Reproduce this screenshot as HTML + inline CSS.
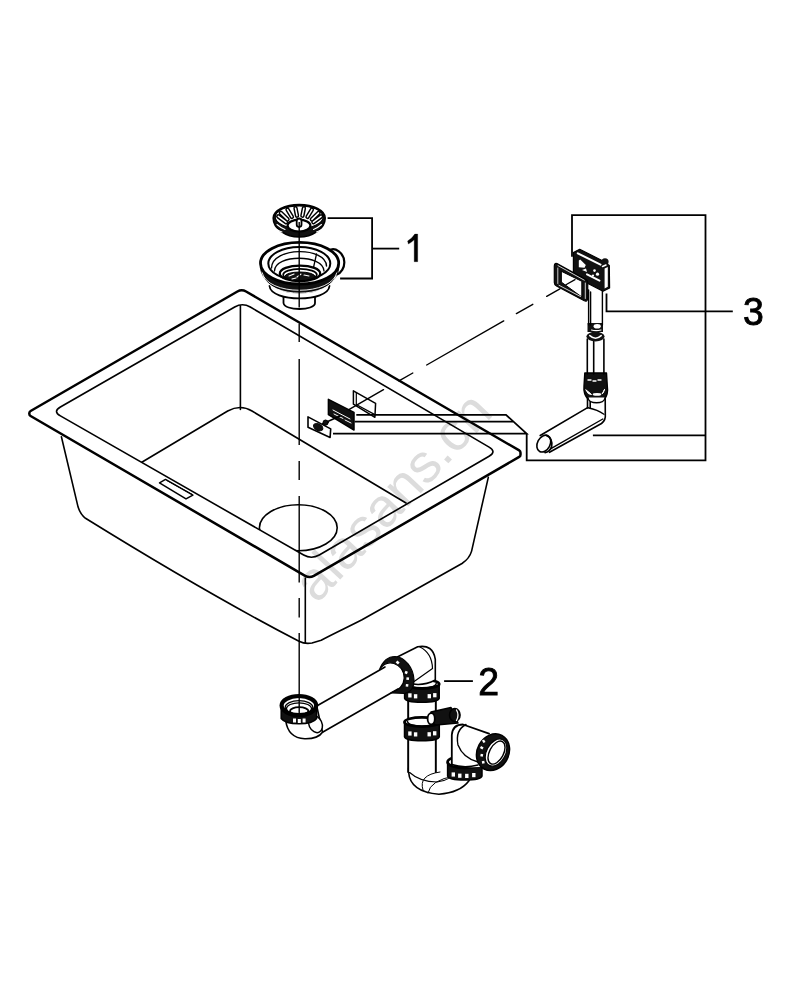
<!DOCTYPE html>
<html><head><meta charset="utf-8">
<style>
html,body{margin:0;padding:0;background:#fff;}
svg{display:block;}
text{font-family:"Liberation Sans",sans-serif;}
</style></head>
<body>
<svg width="792" height="1000" viewBox="0 0 792 1000">
<rect width="792" height="1000" fill="#fff"/>

<g fill="none" stroke="#000" stroke-linecap="round" stroke-linejoin="round">
<!-- bowl exterior -->
<path d="M61.4,436.8 L78.1,507.1 Q80.5,514.5 85.5,518.3 C156.5,562.3 228,604.4 299,641.3 Q305,644.3 312,643 L321.2,640.3 C335,633 348,627 362,619.8 L462,563.5 Q469.5,558.5 471.6,551.1 L488.3,477.4" stroke-width="1.6"/>
<line x1="305.3" y1="578" x2="305.3" y2="643" stroke-width="1.6"/>
<!-- drain hole -->
<ellipse cx="298.3" cy="527.8" rx="38.9" ry="23" stroke-width="1.6"/>
<!-- bowl floor edges -->
<path d="M141.8,462.2 L227.7,411 Q240.4,404 252,411 L406,503" stroke-width="1.6"/>
<line x1="240.4" y1="305.9" x2="240.4" y2="409.5" stroke-width="1.6"/>
</g>

<!-- rim band (white, occludes) -->
<path fill="#fff" fill-rule="evenodd" d="M29.30,411.79 L241.74,289.00 L520.50,451.19 L520.50,456.16 L309.48,578.34 L29.30,415.28 Z M52.59,411.42 L242.51,302.48 L496.87,451.66 L311.48,559.51 Z"/>
<g fill="none" stroke="#000" stroke-linecap="round" stroke-linejoin="round">
<path d="M30.60,411.04 L237.41,291.50 Q241.74,289.00 246.06,291.52 L519.20,450.43 Q520.50,451.19 520.50,452.69 L520.50,454.66 Q520.50,456.16 519.20,456.91 L313.81,575.84 Q309.48,578.34 305.16,575.83 L30.60,416.03 Q29.30,415.28 29.30,413.78 L29.30,413.29 Q29.30,411.79 30.60,411.04 Z" stroke-width="2.5"/>
<path d="M60.40,406.94 L234.70,306.96 Q242.51,302.48 250.28,307.04 L489.11,447.11 Q496.87,451.66 489.09,456.19 L319.26,554.98 Q311.48,559.51 303.67,555.04 L60.40,415.89 Q52.59,411.42 60.40,406.94 Z" stroke-width="1.6"/>
<!-- overflow slot in rim -->
<path d="M159.5,482.8 L165.5,479.4 L192.9,495.1 L186,498.9 Z" stroke-width="1.5"/>
<path d="M167,480.6 L192,494.3" stroke-width="1"/>
</g>



<!-- overflow parts in sink -->
<g fill="none" stroke="#000" stroke-linecap="round" stroke-linejoin="round">
<path d="M353.4,390.8 L375.6,403.3 L374.9,417.3 L353.4,404.2 Z" fill="#fff" stroke-width="1.5"/>
<path d="M356.3,392.5 V404.6 M356.2,404.5 L374.9,414.6" stroke-width="1.2"/>
<path d="M338,415.8 L383.5,389.7 M399,380.9 L412.8,373 M426.7,365 L503.7,320.9 M516.4,313.6 L532.8,304.3 M546.7,296.3 L559.9,288.8" stroke-width="1.4"/>
<path d="M328.4,399.3 L354,412.4 L354,430 L328.4,414.7 Z" fill="#111" stroke-width="1.5"/>
<path d="M333,410 L350,419 M334,414 L343,418.5 M345,420 L351,423" stroke="#fff" stroke-width="1"/>
<path d="M322.7,423.8 L340,416" stroke-width="1.6"/>
<circle cx="325.6" cy="422.6" r="2.6" fill="#111" stroke-width="1"/>
<path d="M308,416.9 L330.7,428.9 L330.1,437.4 L308,427.2 Z" fill="#fff" stroke-width="1.6"/>
<ellipse cx="318.2" cy="427.2" rx="5" ry="3.2" transform="rotate(28 318.2 427.2)" fill="#111" stroke-width="1"/>
</g>
<!-- PART 1: strainer -->
<g fill="none" stroke="#000" stroke-linecap="round" stroke-linejoin="round">
<!-- basket -->
<path d="M273.2,218 A26,13.5 0 0 1 325.2,218 C325.2,229 312,237 299.2,237 C286,237 273.2,229 273.2,218 Z" fill="#111" stroke-width="1.6"/>
<ellipse cx="299.2" cy="217" rx="24" ry="11.2" fill="#fff" stroke-width="1.2"/>
<path d="M275.5,216 A23.7,10.5 0 0 1 323,216" stroke-width="1.1"/>
<path d="M286.0,222.2 L278.3,216.4 M287.5,219.4 L280.8,212.9 M291.9,216.9 L287.5,209.6 M297.0,215.7 L295.5,208.2 M302.4,215.7 L303.9,208.2 M307.5,216.9 L311.9,209.6 M311.9,219.4 L318.6,212.9 M313.4,222.2 L321.1,216.4" stroke-width="4.4"/>
<path d="M286.0,222.2 L278.3,216.4 M287.5,219.4 L280.8,212.9 M291.9,216.9 L287.5,209.6 M297.0,215.7 L295.5,208.2 M302.4,215.7 L303.9,208.2 M307.5,216.9 L311.9,209.6 M311.9,219.4 L318.6,212.9 M313.4,222.2 L321.1,216.4" stroke="#fff" stroke-width="1.5"/>
<path d="M277,224.5 Q281,228 285,229.5 M276,229 Q279,231 282,232 M321.5,224.5 Q317.5,228 313.5,229.5 M322.5,229 Q319.5,231 316.5,232" stroke="#fff" stroke-width="1.1"/>
<ellipse cx="299" cy="225.6" rx="11.4" ry="5.9" fill="#fff" stroke-width="2.2"/>
<rect x="296.7" y="218.5" width="4.8" height="8.5" rx="2.4" fill="#fff" stroke-width="1.8"/>
<!-- body -->
<path d="M329,250.5 C335,246.5 344,253 344.3,262 C344.5,268 341,273 337,274.5" fill="#fff" stroke-width="2.2"/>
<path d="M283.5,296 L283.5,303 C284,311 315,311 315,303 L315,296" fill="#fff" stroke-width="1.8"/>
<path d="M269.5,286 C271,302.5 328,302.5 329.5,286" fill="#fff" stroke-width="1.8"/>
<path d="M260.5,264 C260.5,302.4 338.8,302.4 338.8,264" fill="#111" stroke-width="1.5"/>
<path d="M262,272 C266,296.5 333,296.5 337,272" stroke="#fff" stroke-width="0.9"/>
<path d="M263,276 C270,299 329,299 336,276" stroke="#fff" stroke-width="0.9"/>
<ellipse cx="299.6" cy="263.15" rx="39.1" ry="20.85" fill="#fff" stroke-width="2.8"/>
<ellipse cx="299.3" cy="263.5" rx="31" ry="16.5" stroke-width="2"/>
<path d="M271.5,268 C272,246.5 326,246.5 326.5,266" stroke-width="1.4"/>
<path d="M274.5,271 C275,254 323,254 324,271" stroke-width="1.3"/>
<ellipse cx="300" cy="273.4" rx="20.2" ry="7.8" fill="#fff" stroke-width="2.2"/>
<ellipse cx="300" cy="274.8" rx="16.8" ry="5.9" stroke-width="1.8"/>
<ellipse cx="300" cy="276.3" rx="15" ry="4.3" fill="#111" stroke-width="1"/>
<path d="M289,276 l5,-2 M297,277 l4,-3 M304,275 l5,1 M292,279 l4,-1" stroke="#fff" stroke-width="1.1"/>
<path d="M316.5,254 L313.5,267.5" stroke-width="1.3"/>
</g>
<!-- PART 3: overflow -->
<g fill="none" stroke="#000" stroke-linecap="round" stroke-linejoin="round">
<!-- elbow -->
<path d="M587.6,407.6 L540.2,435.5" stroke-width="1.6"/>
<path d="M602.8,419 L550.5,448.8" stroke-width="1.4"/>
<path d="M605.3,414.5 Q606,420 601.5,423.5 L549.5,452.3" stroke-width="1.6"/>
<path d="M588,407.8 Q598,410 603.5,414" stroke-width="1.5"/>
<ellipse cx="543.8" cy="443.6" rx="6.3" ry="8.9" transform="rotate(28 543.8 443.6)" fill="#fff" stroke-width="1.6"/>
<path d="M546.5,435.5 Q553,438 551.5,447 Q549.5,452 545,452.5" stroke-width="1.8"/>
<!-- lower pipe + nuts -->
<path d="M587.5,396 L587.5,408 M590.2,399 L590.2,408 M605.2,396 L605.3,414.5" stroke-width="1.6"/>
<path d="M584.8,373 L606.5,373 L607.3,386 Q608.5,394 604.5,399 Q596,405 588,399 Q583.2,394 584,386 Z" fill="#111" stroke-width="1.4"/>
<path d="M586,390 Q588,395 591.5,394.5 Q589,392 586,390 Z M604.5,389.5 Q603.5,393.5 602,394 Q603.5,391.5 604.5,389.5 Z" fill="#fff" stroke="#fff" stroke-width="1"/>
<ellipse cx="597" cy="394.4" rx="4.3" ry="1.4" fill="#fff" stroke="none"/>
<path d="M587.8,397.5 C588.5,404.5 604.5,404.5 605.2,397.5" fill="#fff" stroke-width="1.6"/>
<path d="M588,380 h3 M593,381 h3 M598,380 h3" stroke="#fff" stroke-width="1.4"/>
<path d="M587.3,339 V374 M603.9,339 V374 M593.7,340 V374" stroke-width="1.6"/>
<rect x="587.5" y="323" width="15.5" height="9" fill="#111" stroke="none"/>
<ellipse cx="597.2" cy="326.3" rx="3.6" ry="2.3" fill="#fff" stroke="none"/>
<path d="M591.5,330 Q596,331.2 601,330" stroke="#fff" stroke-width="1.1"/>
<ellipse cx="595.5" cy="336.6" rx="9.1" ry="4.8" fill="#111" stroke="none"/>
<path d="M589.8,335.6 Q595.5,340.8 601.2,335.6" stroke="#fff" stroke-width="1.5"/>

<path d="M588.6,290 V325 M590.6,292 V325 M602.4,290 V325" stroke-width="1.4"/>
<!-- head -->
<path d="M573.4,252.5 L579.7,249.3 L602,260.5 L609.3,265.5 L609.6,288 L603,291.2 L573.4,276 Z" fill="#111" stroke-width="1.2"/>
<circle cx="605" cy="261.8" r="3.6" fill="#111" stroke="none"/>
<path d="M577.8,253.3 L600.5,264.6" stroke="#fff" stroke-width="2"/>
<path d="M578.8,260.5 L580.2,259.6 L585.8,265 L584.5,267.8 L578.8,267.2 Z" fill="#fff" stroke="none"/>
<path d="M582,270 L586,268.5 L587,272 Z" fill="#fff" stroke="none"/>
<circle cx="594.5" cy="270.6" r="1.3" fill="#fff" stroke="none"/>
<circle cx="597.5" cy="274.2" r="1.6" fill="#fff" stroke="none"/>
<circle cx="593" cy="275.5" r="1.1" fill="#fff" stroke="none"/>
<path d="M587,274.3 L599.5,280.6" stroke="#fff" stroke-width="2"/>
<path d="M604.6,268.4 L607.8,267 L607.8,286.8 L604.6,288.6 Z" fill="#fff" stroke="none"/>
<path d="M602.5,266.5 L606,265" stroke="#fff" stroke-width="1.5"/>
<!-- gasket -->
<path d="M557,263.6 L586,279.6 Q587.8,280.6 587.8,283 L587.6,299 Q587.2,302 584.3,300.8 L556.5,286 Q554.3,284.8 554.3,282.5 L554.3,266 Q554.5,262.4 557,263.6 Z" fill="#111" stroke-width="1.2"/>
<path d="M561.6,271.4 L581.8,281.3 L581.8,297 L561.6,282.3 Z" fill="#fff" stroke-width="1"/>
<path d="M558,265.6 L584.3,280.2 M557.8,268 V283.5 M585.3,283 V298.5 M559,285.3 L580.5,296.5" stroke="#fff" stroke-width="0.8"/>
<path d="M565.9,284.7 L575,279.6" stroke-width="1.3"/>
</g>

<!-- PART 2: trap -->
<g fill="none" stroke="#000" stroke-linecap="round" stroke-linejoin="round">
<!-- U bend -->
<path d="M408.6,768 L408.6,772 Q410,792 438.9,794.2 Q460,793 469.2,780.6" fill="#fff" stroke-width="1.6"/>
<path d="M409,772 Q420,782 437,782 Q452,780 458,770" stroke-width="1.1"/>
<path d="M423,790 Q418,775 440,772 M428,793 Q430,780 455,776" stroke-width="1"/>
<!-- right nut -->
<path d="M447.6,762.0 L447.6,776.0 Q448.6,780.0 464.8,780.0 Q481.0,780.0 482.0,776.0 L482.0,762.0 Z" fill="#111" stroke-width="1.5"/>
<ellipse cx="464.8" cy="762.0" rx="17.2" ry="6.0" fill="#fff" stroke-width="2.8"/>
<rect x="451.6" y="772.4" width="3.4" height="4.2" fill="#fff" stroke="none"/>
<rect x="458.1" y="773.6" width="3.4" height="4.2" fill="#fff" stroke="none"/>
<rect x="465.1" y="773.8" width="3.4" height="4.2" fill="#fff" stroke="none"/>
<rect x="472.1" y="773.0" width="3.4" height="4.2" fill="#fff" stroke="none"/>
<!-- right elbow -->
<path d="M451.8,765 L451.8,735 Q452.5,724.5 463,724.5 L489,733.6 L486,766 Q470,769 451.8,765 Z" fill="#fff" stroke="none"/>
<path d="M451.8,765 L451.8,735 Q452.5,724.5 463,724.5 L489,733.6" stroke-width="1.8"/>
<path d="M466,724.5 Q455,730 458,745 Q463,758 478,762" stroke-width="1.4"/>
<path d="M451.8,764.5 Q464,768.5 478,765" stroke-width="1.4"/>
<!-- end nut ring -->
<ellipse cx="493" cy="752.2" rx="15.8" ry="19" transform="rotate(28 493 752.2)" fill="#111" stroke-width="1.5"/>
<ellipse cx="496" cy="752.6" rx="9.5" ry="14.5" transform="rotate(28 496 752.6)" fill="#fff" stroke-width="1.2"/>
<ellipse cx="496.5" cy="752.6" rx="7" ry="12.5" transform="rotate(28 496.5 752.6)" fill="#fff" stroke-width="1.4"/>
<path d="M483,740 l1.5,2.5 M480.5,747 l2.5,1.5 M480.5,755 l2.5,0.5 M482,762.5 l2.5,-0.5" stroke="#fff" stroke-width="2.4" stroke-linecap="butt"/>
<!-- vertical body -->
<path d="M408.3,700 V772 M435.7,700 V772" stroke-width="1.7"/>
<rect x="408.3" y="700" width="27.4" height="72" fill="#fff" stroke="none"/>
<path d="M408.3,700 V772 M435.7,700 V772" stroke-width="1.7"/>
<!-- nut 2 -->
<path d="M404.5,722.0 L404.5,736.8 Q405.5,740.8 421.9,740.8 Q438.3,740.8 439.3,736.8 L439.3,722.0 Z" fill="#111" stroke-width="1.5"/>
<ellipse cx="421.9" cy="722.0" rx="17.4" ry="4.6" fill="#fff" stroke-width="2.8"/>
<path d="M407.5,721.5 C408.5,727.8 435.3,727.8 436.3,721.5" stroke-width="1.5"/>
<rect x="408.2" y="731.4" width="3.4" height="4.2" fill="#fff" stroke="none"/>
<rect x="413.9" y="732.3" width="3.4" height="4.2" fill="#fff" stroke="none"/>
<rect x="427.5" y="732.2" width="3.4" height="4.2" fill="#fff" stroke="none"/>
<rect x="433.0" y="731.2" width="3.4" height="4.2" fill="#fff" stroke="none"/>
<!-- side port -->
<path d="M431,712 L451,707.5 L458,723 L436,725 Q428,722 431,712 Z" fill="#111" stroke-width="1.5"/>
<ellipse cx="454.8" cy="715" rx="5.3" ry="6.5" fill="#111" stroke-width="1.5"/>
<path d="M456.5,710 Q459.5,715 456.5,720.5" stroke="#fff" stroke-width="1.3"/>
<ellipse cx="431.2" cy="718.8" rx="3.6" ry="5.6" fill="#fff" stroke-width="1.8"/>
<!-- nut 1 -->
<path d="M404.6,684.0 L404.6,698.2 Q405.6,702.2 421.9,702.2 Q438.2,702.2 439.2,698.2 L439.2,684.0 Z" fill="#111" stroke-width="1.5"/>
<ellipse cx="421.9" cy="684.0" rx="17.3" ry="4.5" fill="#fff" stroke-width="2.8"/>
<path d="M407.6,683.5 C408.6,689.7 435.2,689.7 436.2,683.5" stroke-width="1.5"/>
<rect x="408.2" y="693.3" width="3.4" height="4.2" fill="#fff" stroke="none"/>
<rect x="413.9" y="694.2" width="3.4" height="4.2" fill="#fff" stroke="none"/>
<rect x="427.6" y="694.1" width="3.4" height="4.2" fill="#fff" stroke="none"/>
<rect x="433.1" y="693.1" width="3.4" height="4.2" fill="#fff" stroke="none"/>
<!-- upper elbow -->
<path d="M397.3,657 L417.7,646.8 Q433,644 435.3,659.3 L435.3,680 Q422,687 408,683 Z" fill="#fff" stroke-width="1.6"/>
<path d="M420,647 Q432,653 432.5,668.4 L412,683" stroke-width="1.2"/>
<!-- horizontal pipe -->
<path d="M316.7,706 L385,667 L402,690 L322.5,732.2 Z" fill="#fff" stroke="none"/>
<path d="M316.7,706 L385,667 M322.5,732.2 L398,689" stroke-width="1.6"/>
<!-- pipe nut -->
<path d="M379.5,669.5 C383,660.5 389,656.5 395,656.5 C405,657 413.5,668 414,680 C414.2,687 411,692 405,693.5 L391,692.8 C398,690.5 403.8,686 404.2,678 C404.2,672 401,666 394,663.5 C388,661.5 383,664.5 379.5,669.5 Z" fill="#111" stroke-width="1.2"/>
<path d="M396.5,661.5 l2.3,2 M405,672 l2.4,1 M406.4,678.5 l2.6,0.3 M405.8,685.2 l2.5,0.3" stroke="#fff" stroke-width="2.6" stroke-linecap="butt"/>
<!-- left elbow + nut -->
<path d="M285.7,720.5 Q288,738 304.7,738.7 Q318,739 322.5,732.2 L316.7,706" fill="#fff" stroke-width="1.6"/>
<ellipse cx="315.4" cy="724" rx="6.5" ry="9" transform="rotate(-25 315.4 724)" fill="#fff" stroke-width="1.5"/>
<path d="M281.2,705.5 L281.2,718.5 Q285,723.8 299,723.8 Q313,723.8 316.6,718.5 L316.6,705.5 Z" fill="#111" stroke-width="1.5"/>
<ellipse cx="298.9" cy="705.6" rx="17.3" ry="9.6" fill="#fff" stroke-width="4.2"/>
<ellipse cx="299" cy="707.5" rx="13.8" ry="6.8" stroke-width="1.3"/>
<ellipse cx="299" cy="708.6" rx="12.5" ry="5.8" stroke-width="1.2"/>
<ellipse cx="299.2" cy="711" rx="9.2" ry="3.8" stroke-width="1.8"/>
<path d="M293,720.5 h3 M297.8,721 h3 M302.6,720.5 h3" stroke="#fff" stroke-width="3.8" stroke-linecap="butt"/>
</g>
<!-- center dashed line -->
<g stroke="#000" stroke-width="1.4">
<line x1="299.2" y1="222" x2="299.2" y2="307.6"/>
<line x1="299.2" y1="323.7" x2="299.2" y2="341.9"/>
<line x1="299.2" y1="358.9" x2="299.2" y2="444.9"/>
<line x1="299.2" y1="461" x2="299.2" y2="480"/>
<line x1="299.2" y1="496" x2="299.2" y2="582.6"/>
<line x1="299.2" y1="598" x2="299.2" y2="617.6"/>
<line x1="299.2" y1="633" x2="299.2" y2="713"/>
</g>

<!-- labels -->
<g font-size="39.4" fill="#000" stroke="#000" stroke-width="0.9">
<path d="M417.7,234.1 L417.7,261.7 L414.2,261.7 L414.2,239.8 Q411,242.8 408.4,244 L407.6,241 Q412.5,238 414.8,234.1 Z" stroke-width="0.3"/>
<text transform="translate(743,325) scale(0.95,1)">3</text>
<text transform="translate(478.2,695) scale(0.95,1)">2</text>
</g>
<g fill="none" stroke="#000" stroke-width="1.8">
<path d="M327.6,218.1 H372.1 V278.5 H340.1"/>
<path d="M372.1,248.6 H399.2"/>
<path d="M572,256.8 V215.2 H705.5 V460.4 H526.7 V433.7"/>
<path d="M606.5,293.6 V311.3 H732.8"/>
<path d="M592.9,435.4 H705.5"/>
<path d="M444.1,681.1 H472.9"/>
<path d="M356.3,414.8 H506 L526.6,433.7 H333"/>
<path d="M354.5,421.6 H513"/>
</g>
<!-- watermark -->
<text style="mix-blend-mode:multiply" x="0" y="0" transform="translate(317,604.5) rotate(-47)" font-size="54.5" fill="#dcdcdc">alasans.cn</text>
</svg>
</body></html>
